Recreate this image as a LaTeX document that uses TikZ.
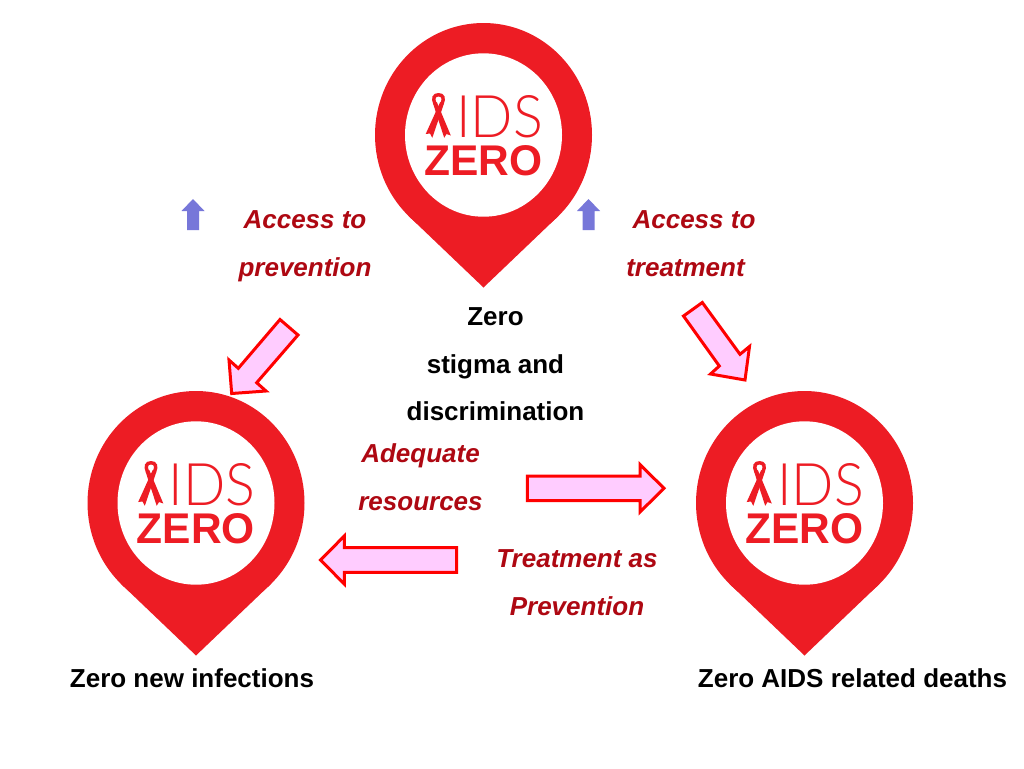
\documentclass[tikz,border=0pt]{standalone}
\usepackage{fontspec}
\setmainfont{Liberation Sans}
\newfontfamily\thinfont{Lato Light}
\definecolor{pinred}{HTML}{ED1C24}
\definecolor{labelred}{HTML}{AE0812}
\definecolor{arrowpink}{HTML}{FFCCFF}
\definecolor{upblue}{HTML}{7777D9}
\tikzset{
  blockarrow/.style={draw=red,fill=arrowpink,line width=2.25pt,line join=miter,miter limit=10},
  uparrow/.style={fill=upblue},
  caption/.style={anchor=base,inner sep=0pt,font=\fontsize{19.5}{19.5}\selectfont\bfseries,text=black},
  redlabel/.style={anchor=base,inner sep=0pt,font=\fontsize{19.5}{19.5}\selectfont\bfseries\itshape,text=labelred},
  pin/.pic={
    \fill[pinred] (0,3.5) ellipse [x radius=108.5,y radius=112];
    \fill[pinred] (-75.5,83.9) -- (0,156) -- (75.5,83.9) -- cycle;
    \fill[white] (0,3.5) ellipse [x radius=78.5,y radius=81.7];
    \begin{scope}[shift={(-483.5,-131.5)}]
      \draw[pinred,line width=2.6pt] (435,104) .. controls (432.5,98) and (434,94.8) .. (438.5,94.8)
         .. controls (443,94.8) and (444.5,98) .. (442,104);
      \fill[pinred] (433.2,104) -- (436.8,102) -- (450.8,135.5) -- (446.5,134) -- (444.2,137.8) -- cycle;
      \fill[pinred] (443.8,104) -- (440.2,102) -- (425.7,134) -- (430,133.5) -- (432.3,137.8) -- cycle;
      \node[anchor=base west,inner sep=0pt,text=pinred] (-ids) at (456,137)
        {\resizebox{65pt}{31.5pt}{\thinfont IDS}};
      \node[anchor=base west,inner sep=0pt,text=pinred] (-zero) at (424,175)
        {\resizebox{88.5pt}{22.5pt}{\bfseries ZERO}};
    \end{scope}
  },
  upmark/.pic={
    \fill[uparrow] (0,0) -- (11.5,12) -- (6,12) -- (6,31) -- (-6,31) -- (-6,12) -- (-11.5,12) -- cycle;
  }
}
\begin{document}
\begin{tikzpicture}[x=0.75pt,y=-0.75pt]
\useasboundingbox (0,0) rectangle (1024,768);
\fill[white] (0,0) rectangle (1024,768);

\pic (pinTop) at (483.5,131.5) {pin};
\pic (pinLeft) at (196,499.5) {pin};
\pic (pinRight) at (804.5,499.5) {pin};

\pic (upLeft) at (193,199) {upmark};
\pic (upRight) at (588.5,199) {upmark};

\node[redlabel] (accessA) at (305,228.7) {Access to};
\node[redlabel] (prevention) at (305,276.5) {prevention};
\node[redlabel] (accessB) at (694,228.7) {Access to};
\node[redlabel] (treatment) at (685.5,276.5) {treatment};
\node[caption] (zeroA) at (495.5,325.7) {Zero};
\node[caption] (zeroB) at (495.5,373.5) {stigma and};
\node[caption] (zeroC) at (495.5,420.5) {discrimination};
\node[redlabel] (adequate) at (420.5,462.3) {Adequate};
\node[redlabel] (resources) at (420.5,510.3) {resources};
\node[redlabel] (tasp) at (577,567.3) {Treatment as};
\node[redlabel] (prev) at (577,615.3) {Prevention};
\node[caption] (infections) at (192,687.7) {Zero new infections};
\node[caption] (deaths) at (852.5,687.7) {Zero AIDS related deaths};

\draw[blockarrow] (280,319.5) -- (298,335) -- (256.7,382.7) -- (266,391) -- (231.7,393.5) -- (229,360) -- (238.3,368.3) -- cycle;
\draw[blockarrow] (702.3,302.5) -- (683.5,316) -- (719.3,366) -- (710.5,374) -- (745,380) -- (749.5,346.5) -- (740,354.3) -- cycle;
\draw[blockarrow] (527.3,476) -- (640,476) -- (640,464.5) -- (664,488.3) -- (640,512) -- (640,500.7) -- (527.3,500.7) -- cycle;
\draw[blockarrow] (456.7,547.7) -- (344.3,547.7) -- (344.3,536) -- (320.5,560) -- (344.3,584) -- (344.3,572.3) -- (456.7,572.3) -- cycle;
\end{tikzpicture}
\end{document}
